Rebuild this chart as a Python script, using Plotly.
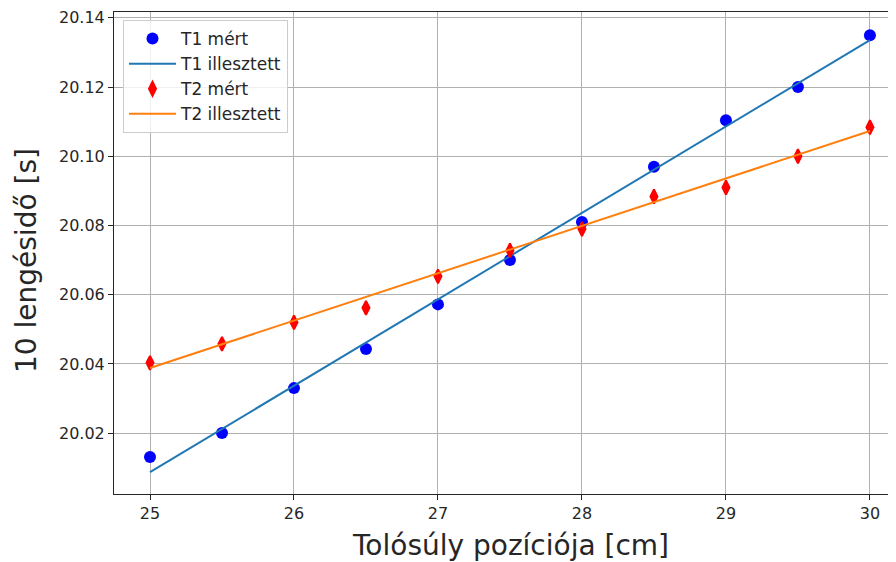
import plotly.graph_objects as go

x_pos = [25, 25.5, 26, 26.5, 27, 27.5, 28, 28.5, 29, 29.5, 30]
t1_meas = [20.0131, 20.020, 20.033, 20.0443, 20.0572, 20.070, 20.081, 20.097, 20.1104, 20.120, 20.135]
t2_meas = [20.0403, 20.0458, 20.052, 20.0562, 20.0653, 20.0728, 20.079, 20.0884, 20.091, 20.100, 20.1084]
fit_x = [25, 30]
t1_fit = [20.0087, 20.1336]
t2_fit = [20.0388, 20.1073]
y_ticks = [20.02, 20.04, 20.06, 20.08, 20.10, 20.12, 20.14]
y_tick_text = ["20.02", "20.04", "20.06", "20.08", "20.10", "20.12", "20.14"]
x_ticks = [25, 26, 27, 28, 29, 30]

# page body has an 8px margin; figure sized to fit the window exactly
W, H = 888, 554
L, T, B = 106, 4, 68
PW, PH = W - L, H - T - B

fig = go.Figure()
fig.add_trace(go.Scatter(x=x_pos, y=t1_meas, mode="markers", name="T1 mért",
                         marker=dict(color="blue", size=12, symbol="circle")))
fig.add_trace(go.Scatter(x=fit_x, y=t1_fit, mode="lines", name="T1 illesztett",
                         line=dict(color="#1f77b4", width=2)))
fig.add_trace(go.Scatter(x=x_pos, y=t2_meas, mode="markers", name="T2 mért",
                         marker=dict(color="red", size=10, symbol="diamond-tall",
                                     line=dict(color="red", width=2))))
fig.add_trace(go.Scatter(x=fit_x, y=t2_fit, mode="lines", name="T2 illesztett",
                         line=dict(color="#ff7f0e", width=2)))

fig.update_layout(
    width=W, height=H,
    margin=dict(l=L, r=0, t=T, b=B),
    paper_bgcolor="white", plot_bgcolor="white",
    font=dict(family="DejaVu Sans", color="#262626", size=16),
    showlegend=True,
    legend=dict(x=(115 - L) / PW, y=(T + PH - 12) / PH, xanchor="left", yanchor="top",
                bgcolor="rgba(255,255,255,0.8)", bordercolor="#cccccc", borderwidth=1,
                font=dict(size=17, color="#262626"), tracegroupgap=0, itemwidth=47),
    annotations=[
        dict(text="Tolósúly pozíciója [cm]", xref="paper", yref="paper",
             x=(502 - L) / PW, y=-(537 - (T + PH)) / PH, xanchor="center", yanchor="middle",
             showarrow=False, font=dict(size=28, color="#262626")),
        dict(text="10 lengésidő [s]", xref="paper", yref="paper",
             x=(19 - L) / PW, y=(T + PH - 253) / PH, xanchor="center", yanchor="middle",
             textangle=-90, showarrow=False, font=dict(size=28, color="#262626")),
    ],
)
fig.update_xaxes(range=[24.75, 30.181], tickvals=x_ticks, automargin=False,
                 showgrid=True, gridcolor="#b0b0b0", gridwidth=1,
                 showline=True, linecolor="#262626", linewidth=1, mirror=True,
                 ticks="outside", ticklen=5, tickcolor="#262626", zeroline=False,
                 tickfont=dict(size=16))
fig.update_yaxes(range=[20.0024, 20.1417], tickvals=y_ticks, ticktext=y_tick_text,
                 automargin=False,
                 showgrid=True, gridcolor="#b0b0b0", gridwidth=1,
                 showline=True, linecolor="#262626", linewidth=1, mirror=False,
                 ticks="outside", ticklen=5, tickcolor="#262626", zeroline=False,
                 tickfont=dict(size=16))

fig.write_html("out.html")
